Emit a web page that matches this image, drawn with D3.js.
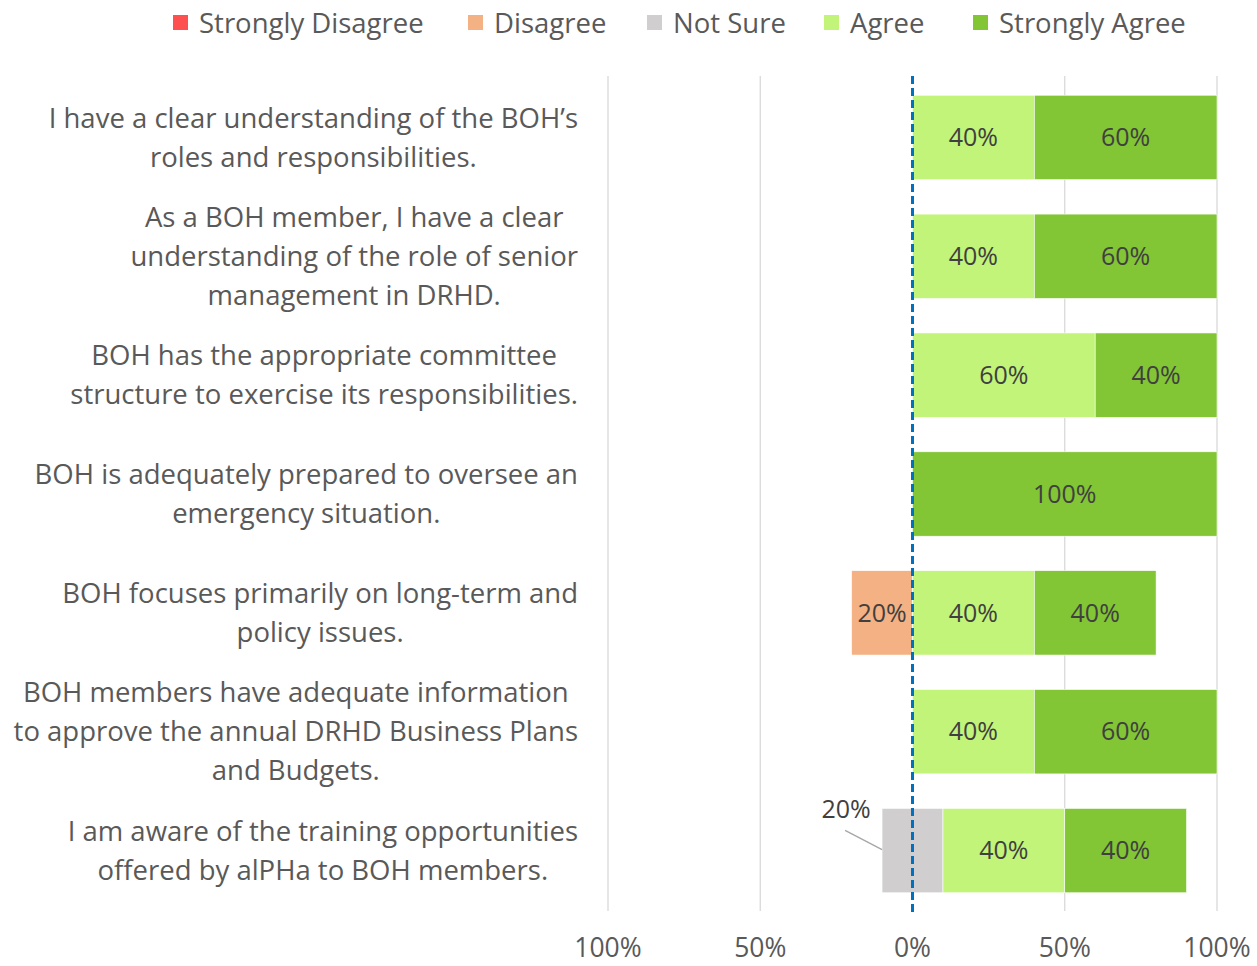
<!DOCTYPE html>
<html>
<head>
<meta charset="utf-8">
<script src="https://d3js.org/d3.v7.min.js"></script>
<style>
  body { margin: 0; background: #fff; }
  text { font-family: "Open Sans", Lato, sans-serif; }
</style>
</head>
<body>
<div id="chart"></div>
<script>
// Chart data
var categories = [
    ["I have a clear understanding of the BOH\u2019s", "roles and responsibilities."],
    ["As a BOH member, I have a clear", "understanding of the role of senior", "management in DRHD."],
    ["BOH has the appropriate committee", "structure to exercise its responsibilities."],
    ["BOH is adequately prepared to oversee an", "emergency situation."],
    ["BOH focuses primarily on long-term and", "policy issues."],
    ["BOH members have adequate information", "to approve the annual DRHD Business Plans", "and Budgets."],
    ["I am aware of the training opportunities", "offered by alPHa to BOH members."]
];
var seriesNames = ["Strongly Disagree", "Disagree", "Not Sure", "Agree", "Strongly Agree"];
var seriesColors = ["#ff5050", "#f4b183", "#d0cece", "#c2f47a", "#82c535"];
var stronglyDisagree = [0, 0, 0, 0, 0, 0, 0];
var disagree = [0, 0, 0, 0, 0.2, 0, 0];
var notSure = [0, 0, 0, 0, 0, 0, 0.2];
var agree = [0.4, 0.4, 0.6, 0, 0.4, 0.4, 0.4];
var stronglyAgree = [0.6, 0.6, 0.4, 1, 0.4, 0.6, 0.4];
var tickValues = [-1, -0.5, 0, 0.5, 1];
var tickLabels = ["100%", "50%", "0%", "50%", "100%"];

var width = 1257, height = 966;

var svg = d3.select("#chart").append("svg")
    .attr("width", width)
    .attr("height", height);

// Scales
var x = d3.scaleLinear().domain([-1, 1]).range([608, 1217]);
var y = d3.scaleBand()
    .domain(d3.range(categories.length))
    .range([78, 910])
    .paddingInner(0.29)
    .paddingOuter(0.145);

// Gridlines (no line at 0, the dashed line goes there)
svg.append("g").selectAll("line")
    .data(tickValues.filter(d => d !== 0))
    .join("line")
    .attr("x1", d => x(d)).attr("x2", d => x(d))
    .attr("y1", 76).attr("y2", 911)
    .attr("stroke", "#d9d9d9")
    .attr("stroke-width", 1.3);

// Build the segments for each row
var rows = categories.map((c, i) => {
    var segs = [];
    var ns = notSure[i];
    // negatives go left from -ns/2
    var left = -ns / 2;
    segs.push({ s: 1, x0: left - disagree[i], x1: left, v: disagree[i] });
    left -= disagree[i];
    segs.push({ s: 0, x0: left - stronglyDisagree[i], x1: left, v: stronglyDisagree[i] });
    segs.push({ s: 2, x0: -ns / 2, x1: ns / 2, v: ns });
    var right = ns / 2;
    segs.push({ s: 3, x0: right, x1: right + agree[i], v: agree[i] });
    right += agree[i];
    segs.push({ s: 4, x0: right, x1: right + stronglyAgree[i], v: stronglyAgree[i] });
    return { i: i, segs: segs.filter(d => d.v > 0) };
});

var rowG = svg.append("g").selectAll("g")
    .data(rows)
    .join("g")
    .attr("transform", d => `translate(0, ${y(d.i)})`);

rowG.selectAll("rect")
    .data(d => d.segs)
    .join("rect")
    .attr("x", d => x(d.x0))
    .attr("width", d => x(d.x1) - x(d.x0))
    .attr("y", 0)
    .attr("height", y.bandwidth())
    .attr("fill", d => seriesColors[d.s])
    .attr("stroke", "#fff")
    .attr("stroke-width", 0.6);

// Data labels (Not Sure label sits outside with a leader line)
rowG.selectAll("text.val")
    .data(d => d.segs.filter(s => s.s !== 2))
    .join("text")
    .attr("class", "val")
    .attr("x", d => (x(d.x0) + x(d.x1)) / 2)
    .attr("y", y.bandwidth() / 2)
    .attr("dy", "0.35em")
    .attr("text-anchor", "middle")
    .attr("fill", "#404040")
    .style("font-size", "25px")
    .text(d => Math.round(d.v * 100) + "%");

rows.forEach(r => {
    r.segs.filter(s => s.s === 2).forEach(s => {
        var g = svg.append("g");
        var bx = x(s.x0), by = y(r.i);
        g.append("line")
            .attr("x1", bx - 37).attr("y1", by + 22)
            .attr("x2", bx).attr("y2", by + y.bandwidth() * 0.5 - 1)
            .attr("stroke", "#a6a6a6")
            .attr("stroke-width", 1.3);
        g.append("text")
            .attr("x", bx - 36)
            .attr("y", by + 1)
            .attr("dy", "0.35em")
            .attr("text-anchor", "middle")
            .attr("fill", "#404040")
            .style("font-size", "25px")
            .text(Math.round(s.v * 100) + "%");
    });
});

// Zero line, dashed blue
svg.append("line")
    .attr("x1", x(0)).attr("x2", x(0))
    .attr("y1", 76).attr("y2", 912)
    .attr("stroke", "#0070c0")
    .attr("stroke-width", 3)
    .attr("stroke-dasharray", "8,4");

// Axis tick labels
svg.append("g").selectAll("text")
    .data(tickValues)
    .join("text")
    .attr("x", d => x(d))
    .attr("y", 957)
    .attr("text-anchor", "middle")
    .attr("fill", "#595959")
    .style("font-size", "26.5px")
    .text((d, i) => tickLabels[i]);

// Category labels: block centred on its widest line, widest line ends at 578
var lineGap = 39;
categories.forEach((lines, i) => {
    var g = svg.append("g");
    var cy = y(i) + y.bandwidth() / 2;
    var texts = g.selectAll("text")
        .data(lines)
        .join("text")
        .attr("y", (d, k) => cy + (k - (lines.length - 1) / 2) * lineGap)
        .attr("dy", "0.35em")
        .attr("text-anchor", "middle")
        .attr("fill", "#595959")
        .style("font-size", "27.5px")
        .text(d => d);
    var maxW = d3.max(texts.nodes(), n => n.getComputedTextLength());
    texts.attr("x", 578 - maxW / 2);
});

// Legend
var legendX = [173, 468, 647, 824, 973];
var legend = svg.append("g").selectAll("g")
    .data(seriesNames)
    .join("g")
    .attr("transform", (d, i) => `translate(${legendX[i]}, 15)`);
legend.append("rect")
    .attr("width", 15).attr("height", 15)
    .attr("fill", (d, i) => seriesColors[i]);
legend.append("text")
    .attr("x", 26).attr("y", 8)
    .attr("dy", "0.35em")
    .attr("fill", "#595959")
    .style("font-size", "27.5px")
    .text(d => d);
</script>
</body>
</html>
